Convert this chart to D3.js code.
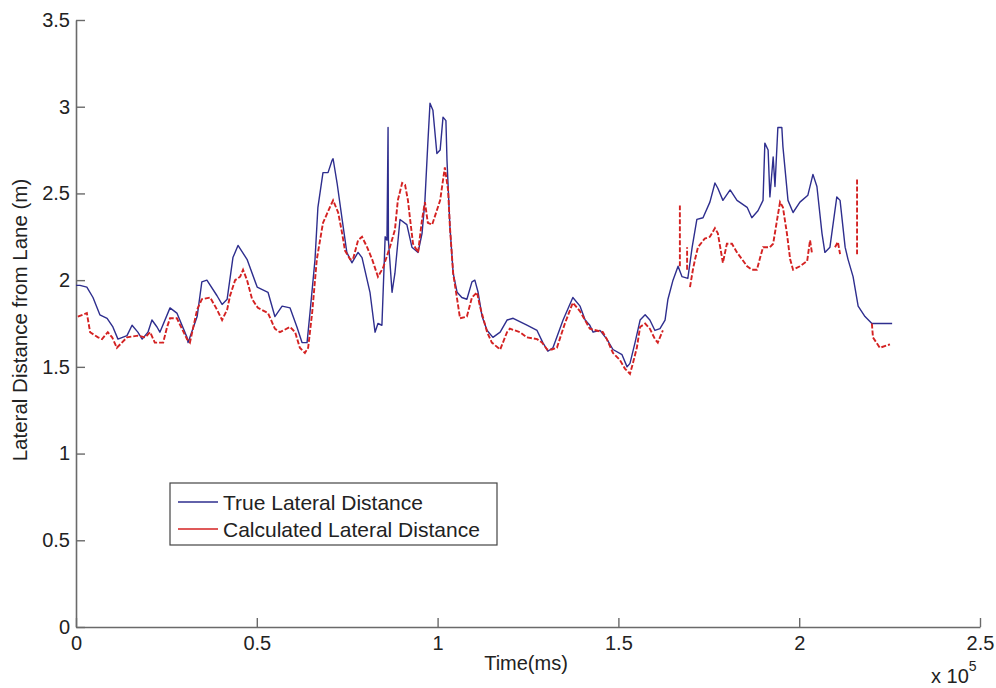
<!DOCTYPE html>
<html>
<head>
<meta charset="utf-8">
<script src="https://cdn.jsdelivr.net/npm/d3@7"></script>
<style>
  body { margin: 0; background: #fff; }
  svg { display: block; font-family: "Liberation Sans", Arial, sans-serif; }
</style>
</head>
<body>
<div id="container"></div>
<script>
// time in ms, distance in m
var trueTime = [0, 1100, 3000, 4700, 6600, 8600, 10200, 11600, 14100, 15500, 17100, 18300, 19900, 21000, 22400, 23200,
  26000, 27900, 30700, 31000, 33500, 34800, 36200, 39000, 40400, 41800, 43400, 44800, 47300, 50100, 53100, 55000,
  57000, 59200, 61100, 62500, 63900, 64700, 66100, 66900, 68300, 69700, 70800, 71100, 72200, 73600, 74900, 76300,
  78000, 79100, 81300, 82700, 83500, 84600, 85500, 86000, 86300, 86400, 87400, 88200, 89600, 91500, 92900, 94600,
  95700, 96500, 97300, 97900, 98700, 99800, 100700, 101500, 102300, 102600, 103400, 104300, 105400, 106700, 108100,
  109500, 110300, 111200, 112300, 113700, 115300, 117300, 119200, 120900, 124700, 127500, 129100, 130500, 131900,
  134700, 137400, 139400, 140800, 142100, 143000, 144900, 146800, 148500, 151000, 152400, 153200, 154600, 156000,
  157400, 158700, 160100, 161500, 162900, 163700, 165100, 166500, 167600, 169200, 170400, 171700, 173400, 175300,
  176700, 177500, 178900, 180900, 182800, 185600, 186900, 188600, 190000, 190500, 191400, 191900, 192800, 193300,
  194100, 195200, 195500, 196900, 198300, 200200, 202400, 203800, 204900, 206300, 207100, 208500, 210400, 211300,
  212700, 213500, 214900, 216300, 218200, 220100, 225700];
var trueDist = [1.97, 1.97, 1.96, 1.90, 1.80, 1.78, 1.73, 1.66, 1.68, 1.74, 1.70, 1.66, 1.70, 1.77, 1.73, 1.70,
  1.84, 1.81, 1.67, 1.64, 1.79, 1.99, 2.00, 1.91, 1.86, 1.89, 2.13, 2.20, 2.12, 1.96, 1.93, 1.79,
  1.85, 1.84, 1.73, 1.64, 1.64, 1.81, 2.12, 2.42, 2.62, 2.62, 2.69, 2.70, 2.56, 2.35, 2.16, 2.10,
  2.16, 2.13, 1.93, 1.70, 1.75, 1.74, 2.25, 2.23, 2.88, 2.23, 1.93, 2.04, 2.35, 2.32, 2.19, 2.16,
  2.27, 2.46, 2.79, 3.02, 2.98, 2.73, 2.75, 2.94, 2.92, 2.69, 2.31, 2.04, 1.93, 1.90, 1.89,
  1.99, 2.00, 1.93, 1.79, 1.71, 1.67, 1.70, 1.77, 1.78, 1.74, 1.71, 1.64, 1.59, 1.61,
  1.77, 1.90, 1.85, 1.77, 1.74, 1.70, 1.71, 1.66, 1.60, 1.57, 1.50, 1.52, 1.64, 1.77,
  1.80, 1.77, 1.71, 1.72, 1.77, 1.89, 2.00, 2.08, 2.02, 2.01, 2.19, 2.35, 2.36, 2.45,
  2.56, 2.53, 2.46, 2.52, 2.46, 2.42, 2.36, 2.40, 2.46, 2.79, 2.75, 2.48, 2.71, 2.54,
  2.88, 2.88, 2.77, 2.46, 2.39, 2.45, 2.49, 2.61, 2.54, 2.27, 2.16, 2.19, 2.48, 2.46,
  2.19, 2.12, 2.02, 1.85, 1.79, 1.75, 1.75];

// null marks a gap in the calculated series
var calcTime = [500, 3000, 3900, 6100, 7200, 8800, 10000, 11300, 14100, 17100, 19100, 20500, 21800, 23200, 24100,
  25200, 26000, 27900, 30700, 31500, 33500, 34800, 37100, 39000, 40400, 41800, 42600, 44000, 45400, 46200, 47300,
  48700, 50300, 53100, 55000, 56400, 59200, 60600, 61900, 63300, 64200, 65300, 66600, 68300, 70200, 71100, 72500,
  73600, 74400, 75800, 76600, 78000, 79100, 80500, 81900, 83500, 84900, 86800, 88200, 89000, 90200, 91000, 91800,
  92400, 93200, 94600, 95700, 96500, 97300, 98500, 100700, 102000, 102900, 103400, 104300, 105400, 106200, 108100,
  109500, 110900, 111700, 113700, 115000, 117300, 119200, 120000, 122800, 124700, 127500, 128900, 130300, 131600,
  133000, 134400, 135200, 137400, 139400, 142100, 145700, 146800, 148500, 150400, 151800, 153200, 154000, 155100,
  156000, 157400, 158700, 160100, 160900, 162100, 162300, null,
  167000, 167000, null, 169000, 169000, null,
  169800, 170600, 171200, 172000, 173900, 175300, 176700, 177500, 178900, 180000, 181400, 182800, 184200, 185600,
  186900, 188300, 189200, 190000, 191900, 192800, 193900, 194700, 195500, 196600, 197500, 198300, 200200, 202200,
  203000, 203500, null, 209900, 210700, 211300, null, 216000, 216000, null, 220100, 220400, 222300, 225100];
var calcDist = [1.79, 1.81, 1.70, 1.67, 1.66, 1.70, 1.67, 1.61, 1.67, 1.68, 1.67, 1.70, 1.64, 1.64, 1.64,
  1.73, 1.78, 1.78, 1.66, 1.64, 1.83, 1.89, 1.90, 1.83, 1.77, 1.83, 1.91, 2.00, 2.02, 2.06, 2.00,
  1.89, 1.84, 1.81, 1.72, 1.70, 1.73, 1.70, 1.61, 1.58, 1.61, 1.81, 2.12, 2.33, 2.42, 2.46, 2.39,
  2.27, 2.17, 2.12, 2.12, 2.23, 2.25, 2.19, 2.12, 2.02, 2.07, 2.19, 2.29, 2.46, 2.56, 2.55, 2.46,
  2.35, 2.21, 2.16, 2.35, 2.45, 2.33, 2.32, 2.46, 2.65, 2.52, 2.31, 2.04, 1.89, 1.78, 1.79,
  1.90, 1.93, 1.85, 1.70, 1.64, 1.60, 1.70, 1.72, 1.70, 1.67, 1.66, 1.64, 1.60, 1.60,
  1.61, 1.70, 1.75, 1.87, 1.82, 1.72, 1.70, 1.66, 1.58, 1.54, 1.49, 1.46, 1.52, 1.61,
  1.73, 1.75, 1.72, 1.66, 1.64, 1.70, 1.71, null,
  2.08, 2.43, null, 2.06, 2.19, null,
  1.96, 2.06, 2.12, 2.19, 2.24, 2.25, 2.30, 2.27, 2.10, 2.21, 2.21, 2.16, 2.12, 2.08,
  2.06, 2.06, 2.13, 2.19, 2.19, 2.21, 2.35, 2.45, 2.42, 2.27, 2.12, 2.06, 2.08, 2.11,
  2.23, 2.16, null, 2.19, 2.22, 2.15, null, 2.58, 2.15, null, 1.75, 1.67, 1.61, 1.63];

var xTicks = [0, 50000, 100000, 150000, 200000, 250000];
var yTicks = [0, 0.5, 1, 1.5, 2, 2.5, 3, 3.5];
var seriesNames = ["True Lateral Distance", "Calculated Lateral Distance"];
var seriesColors = ["#2e2e8e", "#d42222"];

drawChart();

function drawChart() {
  var width = 996, height = 688;
  var plotLeft = 76, plotRight = 980, plotTop = 20, plotBottom = 627;

  var svg = d3.select("#container").append("svg")
    .attr("width", width)
    .attr("height", height);

  var x = d3.scaleLinear().domain([0, 250000]).range([plotLeft, plotRight]);
  var y = d3.scaleLinear().domain([0, 3.5]).range([plotBottom, plotTop]);

  // axes (ticks point inward like MATLAB)
  var xAxis = svg.append("g")
    .attr("transform", "translate(0," + plotBottom + ")")
    .call(d3.axisBottom(x).tickValues(xTicks).tickSizeInner(-9).tickSizeOuter(0).tickPadding(9)
      .tickFormat(function(d) { return d3.format("~g")(d / 1e5); }));

  var yAxis = svg.append("g")
    .attr("transform", "translate(" + plotLeft + ",0)")
    .call(d3.axisLeft(y).tickValues(yTicks).tickSizeInner(-9).tickSizeOuter(0).tickPadding(6)
      .tickFormat(d3.format("~g")));

  [xAxis, yAxis].forEach(function(ax) {
    ax.select(".domain").attr("stroke", "#6a6a6a").attr("stroke-width", 1.6);
    ax.selectAll(".tick line").attr("stroke", "#6a6a6a").attr("stroke-width", 1.4);
    ax.selectAll(".tick text").attr("fill", "#222").style("font-size", "20px")
      .style("font-family", "'Liberation Sans', Arial, sans-serif");
  });

  var trueData = trueTime.map(function(t, i) { return [t, trueDist[i]]; });
  var calcData = calcTime.map(function(t, i) { return [t, calcDist[i]]; });

  var line = d3.line()
    .defined(function(d) { return d[0] !== null && d[1] !== null; })
    .x(function(d) { return x(d[0]); })
    .y(function(d) { return y(d[1]); });

  svg.append("path")
    .datum(trueData)
    .attr("fill", "none")
    .attr("stroke", seriesColors[0])
    .attr("stroke-width", 1.4)
    .attr("stroke-linejoin", "round")
    .attr("d", line);

  svg.append("path")
    .datum(calcData)
    .attr("fill", "none")
    .attr("stroke", seriesColors[1])
    .attr("stroke-width", 1.9)
    .attr("stroke-dasharray", "5,2")
    .attr("d", line);

  // labels
  svg.append("text")
    .attr("x", 526).attr("y", 670)
    .attr("text-anchor", "middle")
    .style("font-size", "20px").attr("fill", "#222")
    .text("Time(ms)");

  var mult = svg.append("text")
    .attr("x", 931).attr("y", 683)
    .style("font-size", "20px").attr("fill", "#222");
  mult.append("tspan").text("x 10");
  mult.append("tspan").attr("dy", -12).style("font-size", "14px").text("5");

  svg.append("text")
    .attr("transform", "translate(27,320) rotate(-90)")
    .attr("text-anchor", "middle")
    .style("font-size", "20.5px").attr("fill", "#222")
    .text("Lateral Distance from Lane (m)");

  // legend
  var legend = svg.append("g");
  legend.append("rect")
    .attr("x", 170).attr("y", 483).attr("width", 327).attr("height", 62)
    .attr("fill", "#fff").attr("stroke", "#444").attr("stroke-width", 1.2);

  seriesNames.forEach(function(name, i) {
    var ly = 502 + i * 27;
    legend.append("line")
      .attr("x1", 178).attr("x2", 218).attr("y1", ly).attr("y2", ly)
      .attr("stroke", seriesColors[i]).attr("stroke-width", 1.4);
    legend.append("text")
      .attr("x", 223).attr("y", ly + 8)
      .style("font-size", "21px").attr("fill", "#222")
      .text(name);
  });
}
</script>
</body>
</html>
